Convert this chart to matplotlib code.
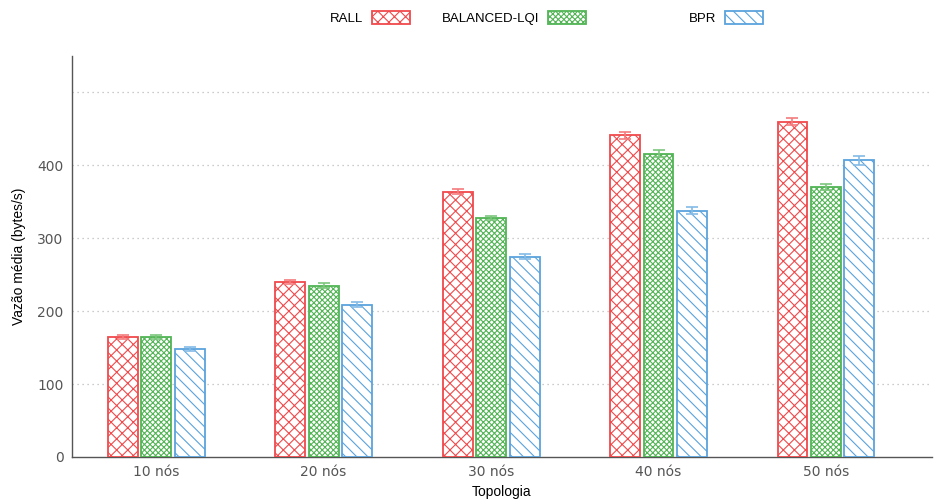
import matplotlib
matplotlib.use("Agg")
import matplotlib.pyplot as plt
import numpy as np

categories = ["10 nós", "20 nós", "30 nós", "40 nós", "50 nós"]
series_names = ["RALL", "BALANCED-LQI", "BPR"]
rall = [165, 240, 364, 441, 460]
balanced = [165, 235, 328, 416, 370]
bpr = [148, 209, 275, 338, 407]
rall_err = [3, 3, 3, 5, 5]
balanced_err = [3, 3, 3, 5, 4]
bpr_err = [3, 3, 3, 5, 6]
yticks = [0, 100, 200, 300, 400]
grid_levels = [100, 200, 300, 400, 500]

colors = ["#f04a4c", "#52b455", "#5aa3dd"]
err_colors = ["#f47c7e", "#7cc67e", "#84bbe6"]
hatches = ["xxx", "xxxxxx", "\\\\\\"]

plt.rcParams["hatch.linewidth"] = 0.8

fig = plt.figure(figsize=(9.34, 4.99), dpi=100)
ax = fig.add_axes([72/934, 42/499, (932-72)/934, (457-56)/499])

x = np.arange(len(categories))
width = 0.179
offsets = [-0.2, 0.0, 0.2]
data = [rall, balanced, bpr]
errs = [rall_err, balanced_err, bpr_err]

handles = []
for i in range(3):
    b = ax.bar(x + offsets[i], data[i], width, facecolor="white",
               edgecolor=colors[i], hatch=hatches[i], linewidth=1.3,
               label=series_names[i], zorder=3)
    ax.errorbar(x + offsets[i], data[i], yerr=errs[i], fmt="none",
                ecolor=err_colors[i], elinewidth=1.2, capsize=4, capthick=1.2,
                zorder=4)
    handles.append(b)

for g in grid_levels:
    ax.axhline(g, color="#bbbbbb", linestyle=(0, (1, 3)), linewidth=0.9, zorder=1)

ax.set_xlim(-0.502, 4.633)
ax.set_ylim(0, 550)
ax.set_yticks(yticks)
ax.set_yticklabels([str(v) for v in yticks])
ax.set_xticks(x)
ax.set_xticklabels(categories)
ax.tick_params(axis="both", length=0, labelsize=10, labelcolor="#555555", pad=6)
for lab in ax.get_xticklabels() + ax.get_yticklabels():
    lab.set_family("DejaVu Sans")

for s in ["top", "right"]:
    ax.spines[s].set_visible(False)
for s in ["left", "bottom"]:
    ax.spines[s].set_color("#555555")
    ax.spines[s].set_linewidth(1.0)

ax.set_ylabel("Vazão média (bytes/s)", family="Liberation Sans", fontsize=10, labelpad=8)
ax.set_xlabel("Topologia", family="Liberation Sans", fontsize=10, labelpad=4)

# legends placed individually (gnuplot-style key)
text_starts = [330, 442, 689]
for i in range(3):
    leg = fig.legend([handles[i]], [series_names[i]], loc="center left",
                     bbox_to_anchor=(text_starts[i]/934, 1 - 18/499),
                     frameon=False, markerfirst=False, handlelength=2.9,
                     handleheight=1.1, handletextpad=0.65, borderpad=0,
                     borderaxespad=0, prop={"family": "Liberation Sans", "size": 9.5})

fig.savefig("out.png", dpi=100)
